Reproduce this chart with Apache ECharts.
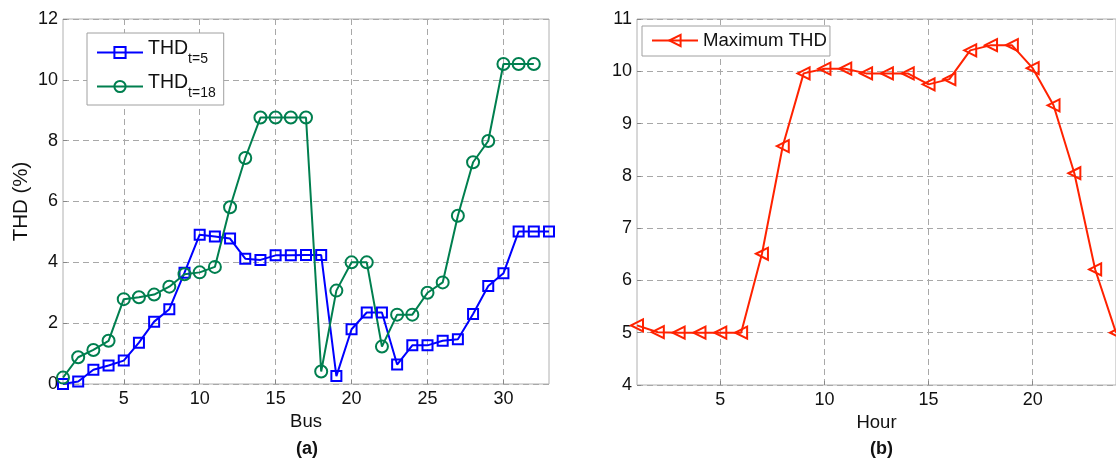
<!DOCTYPE html>
<html><head><meta charset="utf-8">
<script src="https://cdn.jsdelivr.net/npm/echarts@6/dist/echarts.min.js"></script>
<style>html,body{margin:0;padding:0;background:#fff}#c{width:1116px;height:461px}</style>
</head><body><div id="c"></div>
<script>
const buses = [1,2,3,4,5,6,7,8,9,10,11,12,13,14,15,16,17,18,19,20,21,22,23,24,25,26,27,28,29,30,31,32,33];
const thdT5 = [0.0,0.08,0.47,0.61,0.77,1.36,2.05,2.46,3.66,4.91,4.85,4.78,4.12,4.08,4.23,4.23,4.24,4.24,0.26,1.80,2.35,2.35,0.64,1.27,1.27,1.42,1.47,2.30,3.22,3.64,5.01,5.01,5.01];
const thdT18 = [0.21,0.88,1.12,1.42,2.79,2.85,2.94,3.20,3.61,3.67,3.85,5.81,7.43,8.76,8.76,8.76,8.76,0.41,3.07,4.00,4.00,1.23,2.28,2.28,3.00,3.34,5.53,7.29,7.99,10.52,10.52,10.52];
const hours = [1,2,3,4,5,6,7,8,9,10,11,12,13,14,15,16,17,18,19,20,21,22,23,24];
const maxTHD = [5.14,5.01,5.0,5.0,5.0,5.0,6.51,8.57,9.96,10.05,10.05,9.96,9.96,9.96,9.75,9.85,10.40,10.50,10.50,10.06,9.35,8.05,6.21,5.0];
const busTicks = [5,10,15,20,25,30];
const hourTicks = [5,10,15,20];

const font = 'Liberation Sans, Arial, sans-serif';
const txt = '#111';
const gridLine = {show:true, lineStyle:{color:'#a8a8a8', type:[6,4], width:1}};
function xAx(gi, min, max, ticks, name){
  return {type:'value', gridIndex:gi, min:min, max:max, name:name, nameLocation:'middle', nameGap:28,
    nameTextStyle:{fontFamily:font, fontSize:18.5, color:txt},
    axisLine:{show:false}, axisTick:{show:true, inside:true, length:4, customValues:ticks, lineStyle:{color:'#888'}},
    axisLabel:{customValues:ticks, fontFamily:font, fontSize:18, color:txt, margin:6},
    splitLine:gridLine};
}
function yAx(gi, min, max, interval, name){
  return {type:'value', gridIndex:gi, min:min, max:max, interval:interval, name:name, nameLocation:'middle', nameGap:31,
    nameTextStyle:{fontFamily:font, fontSize:20.5, color:txt},
    axisLine:{show:false}, axisTick:{show:true, inside:true, length:4, lineStyle:{color:'#888'}},
    axisLabel:{fontFamily:font, fontSize:18, color:txt, margin:5},
    splitLine:gridLine};
}
const legendRich = {m:{fontFamily:font, fontSize:19.5, color:txt, verticalAlign:'bottom', padding:[0,0,7,0]},
                    s:{fontFamily:font, fontSize:14, color:txt, verticalAlign:'bottom'}};
const chart = echarts.init(document.getElementById('c'));
chart.setOption({
  animation:false,
  backgroundColor:'#fff',
  grid:[
    {left:63, top:19, width:486, height:365, show:true, borderColor:'#b0b0b0', borderWidth:1, backgroundColor:'transparent'},
    {left:637, top:19, width:485, height:366, show:true, borderColor:'#b0b0b0', borderWidth:1, backgroundColor:'transparent'}
  ],
  xAxis:[xAx(0,1,33,busTicks,'Bus'), xAx(1,1,24,hourTicks,'Hour')],
  yAxis:[yAx(0,0,12,2,'THD (%)'), yAx(1,4,11,1,'')],
  legend:[
    {data:['T5','T18'], orient:'vertical', left:87, top:33, padding:[6,8,5,9], itemGap:7, itemWidth:46, itemHeight:14,
     backgroundColor:'#fff', borderColor:'#a0a0a0', borderWidth:1,
     formatter:function(n){return n==='T5' ? '{m|THD}{s|t=5}' : '{m|THD}{s|t=18}';},
     textStyle:{rich:legendRich}},
    {data:['Maximum THD'], left:642, top:26, padding:[5,3,6,9], itemWidth:46, itemHeight:14,
     backgroundColor:'#fff', borderColor:'#a0a0a0', borderWidth:1,
     textStyle:{fontFamily:font, fontSize:18.6, color:txt}}
  ],
  graphic:[
    {type:'text', left:296, top:440, style:{text:'(a)', font:'bold 18px Liberation Sans, Arial', fill:txt}},
    {type:'text', left:870, top:440, style:{text:'(b)', font:'bold 18px Liberation Sans, Arial', fill:txt}}
  ],
  series:[
    {name:'T5', type:'line', xAxisIndex:0, yAxisIndex:0, data:buses.map((b,i)=>[b,thdT5[i]]),
     symbol:'rect', symbolSize:10, lineStyle:{color:'#0000ff', width:2},
     itemStyle:{color:'rgba(0,0,0,0)', borderColor:'#0000ff', borderWidth:2}},
    {name:'T18', type:'line', xAxisIndex:0, yAxisIndex:0, data:thdT18.map((v,i)=>[buses[i],v]),
     symbol:'circle', symbolSize:12, lineStyle:{color:'#007f4f', width:2},
     itemStyle:{color:'rgba(0,0,0,0)', borderColor:'#007f4f', borderWidth:2}},
    {name:'Maximum THD', type:'line', xAxisIndex:1, yAxisIndex:1, data:hours.map((h,i)=>[h,maxTHD[i]]),
     symbol:'triangle', symbolRotate:90, symbolSize:12, lineStyle:{color:'#ff2200', width:2},
     itemStyle:{color:'rgba(0,0,0,0)', borderColor:'#ff2200', borderWidth:2}}
  ]
});
</script></body></html>
